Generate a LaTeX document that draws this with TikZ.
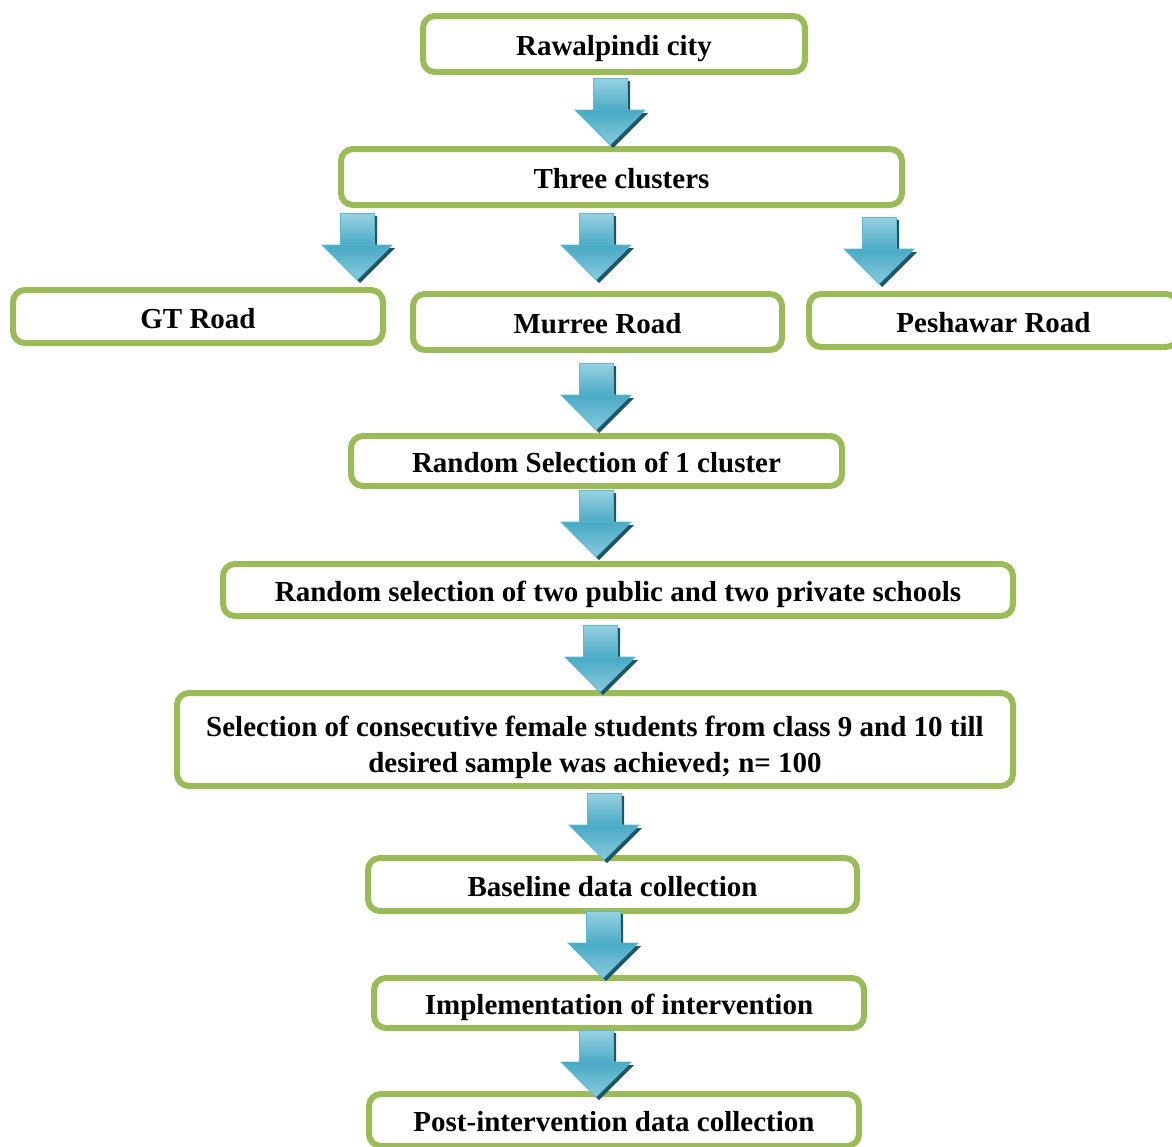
\documentclass[tikz,border=0pt]{standalone}
\usepackage{fontspec}
\setmainfont{Liberation Serif}[BoldFont={Liberation Serif Bold}, ItalicFont={Liberation Serif Italic}]
\definecolor{boxgreen}{RGB}{155,187,89}
\definecolor{arrLight}{RGB}{152,210,226}
\definecolor{arrMid}{RGB}{72,170,197}
\definecolor{arrDark}{RGB}{30,86,101}
\definecolor{arrEdge}{RGB}{96,184,208}
\begin{document}
\begin{tikzpicture}[x=1pt,y=-1pt,
  basebox/.style={draw=boxgreen, line width=6pt, rounded corners=12pt, fill=white,
    inner sep=0pt, font=\bfseries\fontsize{29}{36}\selectfont},
  stagebox/.style={basebox, text height=23pt, text depth=0pt},
  blockarrow/.pic={
    \fill[arrDark] (-14,3) -- (20,3) -- (20,35) -- (38,35) -- (3,70) -- (-32,35) -- (-14,35) -- cycle;
    \draw[arrEdge, line width=0.8pt, top color=arrLight, bottom color=arrMid]
      (-17,0) rectangle (17,33);
    \draw[arrEdge, line width=0.8pt, top color=arrMid, bottom color=arrLight!80!arrMid, line join=miter]
      (-35,32) -- (35,32) -- (0,67) -- cycle;
  }]
\useasboundingbox (0,0) rectangle (1172,1146);

\node[stagebox, minimum width=382pt, minimum height=56pt] (city) at (614,44) {Rawalpindi city};
\node[stagebox, minimum width=561pt, minimum height=56pt] (clusters) at (621.5,177) {Three clusters};
\node[stagebox, minimum width=370pt, minimum height=53pt] (gt) at (198,316.5) {GT Road};
\node[stagebox, minimum width=369pt, minimum height=56pt] (murree) at (597.5,322) {Murree Road};
\node[stagebox, minimum width=369pt, minimum height=53pt] (peshawar) at (993.5,320.5) {Peshawar Road};
\node[stagebox, minimum width=491pt, minimum height=50pt] (random1) at (596.5,461) {Random Selection of 1 cluster};
\node[stagebox, minimum width=790pt, minimum height=52pt] (schools) at (618,590) {Random selection of two public and two private schools};
\node[basebox, align=center, text height=65pt, text depth=0pt, minimum width=836pt, minimum height=93pt] (students) at (595,739.5)
  {Selection of consecutive female students from class 9 and 10 till\\desired sample was achieved; n= 100};
\node[stagebox, minimum width=489pt, minimum height=53pt] (baseline) at (612.5,884.5) {Baseline data collection};
\node[stagebox, minimum width=490pt, minimum height=50pt] (impl) at (619,1003) {Implementation of intervention};
\node[stagebox, minimum width=490pt, minimum height=52pt] (post) at (614,1120) {Post-intervention data collection};

\pic at (610,78) {blockarrow};
\pic at (357,213) {blockarrow};
\pic at (596,213) {blockarrow};
\pic at (879,217) {blockarrow};
\pic at (596,363) {blockarrow};
\pic at (596,490) {blockarrow};
\pic at (600,625) {blockarrow};
\pic at (604,793) {blockarrow};
\pic at (603,911) {blockarrow};
\pic at (596,1030) {blockarrow};
\end{tikzpicture}
\end{document}
